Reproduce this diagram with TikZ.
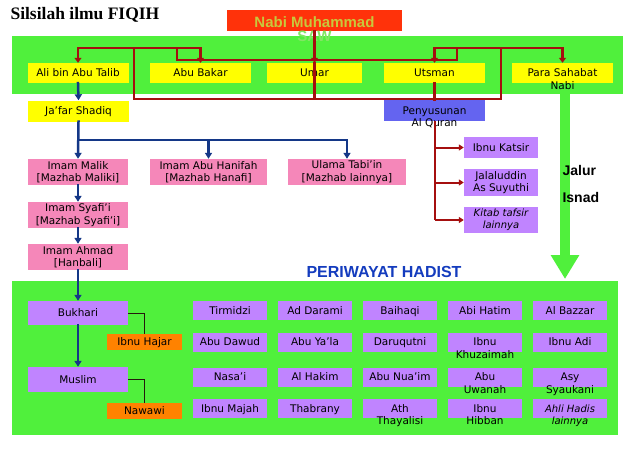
\documentclass[tikz,border=0pt]{standalone}
\usepackage{fontspec}
\setmainfont{DejaVu Sans}
\newfontfamily\titlefont{Liberation Serif}
\newfontfamily\headfont{Liberation Sans}
\usetikzlibrary{arrows.meta}
\definecolor{band}{RGB}{80,240,60}
\definecolor{sahabat}{RGB}{255,255,0}
\definecolor{nabired}{RGB}{255,50,10}
\definecolor{nabitext}{RGB}{200,200,60}
\definecolor{sawtext}{RGB}{130,230,100}
\definecolor{sanad}{RGB}{165,15,15}
\definecolor{mazhab}{RGB}{20,55,135}
\definecolor{ulama}{RGB}{245,135,185}
\definecolor{perawi}{RGB}{192,132,255}
\definecolor{quran}{RGB}{100,100,240}
\definecolor{syarah}{RGB}{255,130,0}
\definecolor{judul}{RGB}{20,60,190}
\newcommand{\duabaris}[2]{\begin{tabular}[t]{@{}c@{}}#1\\#2\end{tabular}}
\begin{document}
\begin{tikzpicture}[
        x=1pt, y=-1pt,
        font=\fontsize{10.5}{12.5}\selectfont,
        box/.style={minimum height=20pt, inner sep=0pt, text height=7.5pt, text depth=0pt},
        sahabatbox/.style={box, fill=sahabat, minimum width=101pt},
        imambox/.style={fill=ulama, minimum width=100pt, minimum height=26pt, inner sep=0pt, align=center},
        perawibox/.style={box, fill=perawi, minimum width=74pt, minimum height=19pt},
        tafsirbox/.style={fill=perawi, minimum width=74pt, minimum height=26pt, inner sep=0pt, align=center},
        syarahbox/.style={box, fill=syarah, minimum width=75pt, minimum height=16pt},
        sanadline/.style={draw=sanad, line width=2.5pt, line cap=rect},
        sanadarrow/.style={sanadline, -{Triangle[width=7pt,length=5pt]}},
        tafsirarrow/.style={draw=sanad, line width=2pt, -{Triangle[width=6pt,length=5pt]}},
        mazhabline/.style={draw=mazhab, line width=2.5pt, line cap=rect},
        mazhabarrow/.style={mazhabline, -{Triangle[width=7pt,length=6pt]}},
        syarahline/.style={draw=black!80!brown, line width=0.8pt}
    ]
    \useasboundingbox (0,0) rectangle (631,461);
    \fill[white] (0,0) rectangle (631,461);
    \node[fill=band, minimum width=611pt, minimum height=58pt, inner sep=0pt] (atasband) at (317.5,65) {};
    \node[fill=band, minimum width=606pt, minimum height=154pt, inner sep=0pt] (hadisband) at (315,358) {};
    \coordinate (isnadujung) at (565,279);
    \draw[draw=band, line width=10pt, -{Triangle[width=27pt,length=24pt]}] (atasband.south -| isnadujung) -- (isnadujung);

    \node[anchor=west, font=\titlefont\bfseries\fontsize{17.5}{20}\selectfont] (title) at (7,15) {Silsilah ilmu FIQIH};
    \node[box, fill=nabired, minimum width=175pt, minimum height=21pt, text height=13pt, text=nabitext,
        font=\headfont\bfseries\fontsize{15}{14}\selectfont] (nabi) at (314.5,20.5) {\duabaris{Nabi Muhammad}{\textcolor{sawtext}{SAW}}};

    \node[sahabatbox] (ali) at (78,73) {Ali bin Abu Talib};
    \node[sahabatbox] (abubakar) at (200.5,73) {Abu Bakar};
    \node[sahabatbox, minimum width=95pt] (umar) at (314.5,73) {Umar};
    \node[sahabatbox] (utsman) at (434.5,73) {Utsman};
    \node[sahabatbox] (sahabat) at (562.5,73) {\duabaris{Para Sahabat}{Nabi}};
    \node[sahabatbox, minimum height=21pt] (jafar) at (78.5,111) {Ja’far Shadiq};
    \node[box, fill=quran, minimum width=101pt, minimum height=21pt] (quran) at (434.5,110.5) {\duabaris{Penyusunan}{Al Quran}};

    \node[box, fill=perawi, minimum width=74pt, minimum height=21pt] (katsir) at (501,147.5) {Ibnu Katsir};
    \node[tafsirbox, minimum height=27pt] (jalal) at (501,182.5) {Jalaluddin\\As Suyuthi};
    \node[tafsirbox, font=\itshape] (kitab) at (501,220) {Kitab tafsir\\lainnya};

    \node[imambox] (malik) at (78,172) {Imam Malik\\{[Mazhab Maliki]}};
    \node[imambox, minimum width=117pt] (hanifah) at (208.5,172) {Imam Abu Hanifah\\{[Mazhab Hanafi]}};
    \node[imambox, minimum width=118pt] (tabiin) at (347,172) {Ulama Tabi’in\\{[Mazhab lainnya]}};
    \node[imambox] (syafii) at (78,215) {Imam Syafi’i\\{[Mazhab Syafi’i]}};
    \node[imambox] (ahmad) at (78,257) {Imam Ahmad\\{[Hanbali]}};

    \node[font=\headfont\bfseries\fontsize{16}{17}\selectfont, text=judul] (periwayat) at (384,272) {PERIWAYAT HADIST};
    \node[anchor=base west, align=left, font=\headfont\bfseries\fontsize{14}{27}\selectfont] (isnad) at (559,202) {Jalur\\Isnad};

    \node[box, fill=perawi, minimum width=100pt, minimum height=24pt] (bukhari) at (78,313) {Bukhari};
    \node[box, fill=perawi, minimum width=100pt, minimum height=25pt] (muslim) at (78,379.5) {Muslim};
    \node[syarahbox] (hajar) at (144.5,342) {Ibnu Hajar};
    \node[syarahbox] (nawawi) at (144.5,411) {Nawawi};

    \node[perawibox] (tirmidzi) at (230,310.5) {Tirmidzi};
    \node[perawibox] (darami) at (315,310.5) {Ad Darami};
    \node[perawibox] (baihaqi) at (400,310.5) {Baihaqi};
    \node[perawibox] (abihatim) at (485,310.5) {Abi Hatim};
    \node[perawibox] (bazzar) at (570,310.5) {Al Bazzar};
    \node[perawibox] (abudawud) at (230,342) {Abu Dawud};
    \node[perawibox] (abuyala) at (315,342) {Abu Ya’la};
    \node[perawibox] (daruqutni) at (400,342) {Daruqutni};
    \node[perawibox] (khuzaimah) at (485,342) {\duabaris{Ibnu}{Khuzaimah}};
    \node[perawibox] (ibnuadi) at (570,342) {Ibnu Adi};
    \node[perawibox] (nasai) at (230,377) {Nasa’i};
    \node[perawibox] (hakim) at (315,377) {Al Hakim};
    \node[perawibox] (abunuaim) at (400,377) {Abu Nua’im};
    \node[perawibox] (uwanah) at (485,377) {\duabaris{Abu}{Uwanah}};
    \node[perawibox] (syaukani) at (570,377) {\duabaris{Asy}{Syaukani}};
    \node[perawibox] (ibnumajah) at (230,408.5) {Ibnu Majah};
    \node[perawibox] (thabrany) at (315,408.5) {Thabrany};
    \node[perawibox] (thayalisi) at (400,408.5) {\duabaris{Ath}{Thayalisi}};
    \node[perawibox] (hibban) at (485,408.5) {\duabaris{Ibnu}{Hibban}};
    \node[perawibox, font=\itshape] (ahlihadis) at (570,408.5) {\duabaris{Ahli Hadis}{lainnya}};

    \coordinate (atas) at (0,48);
    \coordinate (tengah) at (0,60);
    \coordinate (bawah) at (0,99);
    \coordinate (kiri) at (134,0);
    \coordinate (kanan) at (501,0);
    \coordinate (kiridalam) at (177,0);
    \coordinate (kanandalam) at (457,0);
    \coordinate (cabang) at (0,140);

    \draw[sanadline] (kiri |- atas) -- (kiri |- bawah) -- (kanan |- bawah) -- (kanan |- atas);
    \draw[sanadline] (kiridalam |- atas) -- (kiridalam |- tengah) -- (kanandalam |- tengah) -- (kanandalam |- atas);
    \draw[sanadline] (ali.north |- atas) -- (abubakar.north |- atas);
    \draw[sanadline] (utsman.north |- atas) -- (sahabat.north |- atas);
    \draw[sanadarrow] (ali.north |- atas) -- (ali.north);
    \draw[sanadarrow] (abubakar.north |- atas) -- (abubakar.north);
    \draw[sanadarrow] (utsman.north |- atas) -- (utsman.north);
    \draw[sanadarrow] (sahabat.north |- atas) -- (sahabat.north);
    \draw[sanadarrow] (nabi.south) -- (umar.north);
    \draw[sanadline] (umar.north) -- (umar.north |- bawah);
    \draw[sanadline] (utsman.south) -- (quran.north);

    \draw[draw=sanad, line width=2pt] (quran.south) -- (quran.south |- kitab.west);
    \draw[tafsirarrow] (quran.south |- katsir.west) -- (katsir.west);
    \draw[tafsirarrow] (quran.south |- jalal.west) -- (jalal.west);
    \draw[tafsirarrow] (quran.south |- kitab.west) -- (kitab.west);

    \draw[mazhabarrow] (ali.south) -- (jafar.north);
    \draw[mazhabarrow] (jafar.south) -- (malik.north);
    \draw[mazhabline] (jafar.south |- cabang) -- (tabiin.north |- cabang);
    \draw[mazhabarrow] (hanifah.north |- cabang) -- (hanifah.north);
    \draw[mazhabarrow] (tabiin.north |- cabang) -- (tabiin.north);
    \draw[mazhabarrow] (malik.south) -- (syafii.north);
    \draw[mazhabarrow] (syafii.south) -- (ahmad.north);
    \draw[mazhabarrow] (ahmad.south) -- (bukhari.north);
    \draw[mazhabarrow] (bukhari.south) -- (muslim.north);

    \draw[syarahline] (bukhari.east) -| (hajar.north);
    \draw[syarahline] (muslim.east) -| (nawawi.north);
\end{tikzpicture}
\end{document}
